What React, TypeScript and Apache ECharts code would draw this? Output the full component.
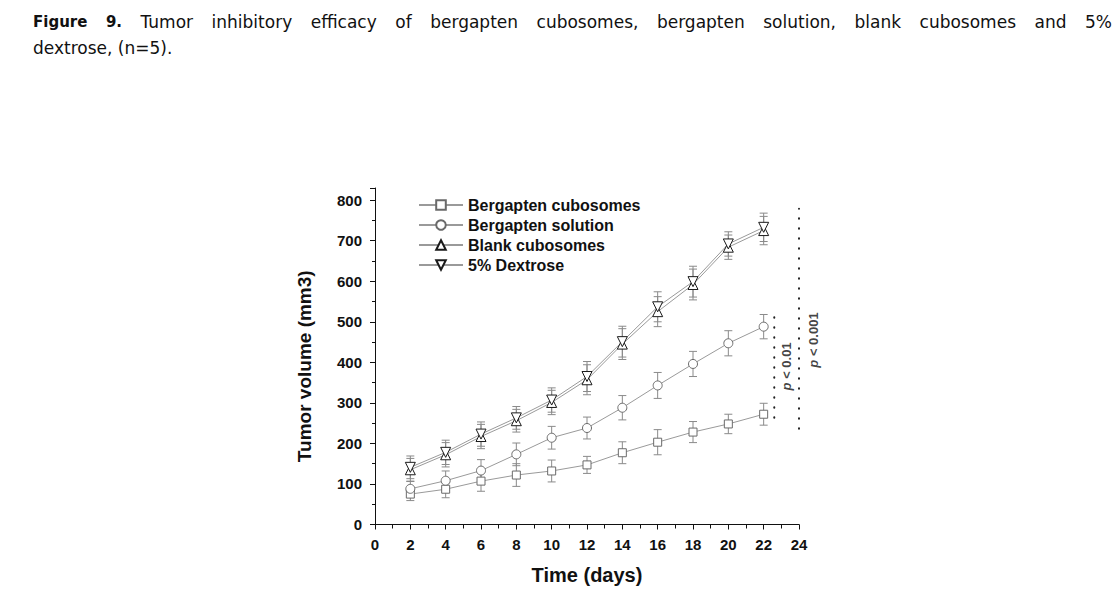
import React, { useEffect, useRef } from "react";
import * as echarts from "echarts";

const days = [2, 4, 6, 8, 10, 12, 14, 16, 18, 20, 22];
const seriesNames = ["Bergapten cubosomes", "Bergapten solution", "Blank cubosomes", "5% Dextrose"];
const cubosomes = [75, 87, 107, 122, 132, 147, 177, 203, 228, 248, 272];
const cubosomesErr = [16, 21, 25, 28, 27, 21, 27, 31, 26, 24, 27];
const solution = [88, 108, 133, 173, 214, 238, 288, 343, 396, 447, 488];
const solutionErr = [18, 24, 27, 28, 28, 27, 30, 32, 31, 31, 30];
const blank = [135, 172, 217, 256, 301, 357, 445, 525, 592, 684, 725];
const blankErr = [28, 30, 30, 28, 30, 37, 38, 37, 38, 30, 35];
const dextrose = [141, 178, 223, 263, 307, 365, 451, 537, 599, 692, 733];
const dextroseErr = [28, 30, 30, 28, 30, 37, 38, 37, 38, 30, 35];

// significance brackets: [x, yLow, yHigh]
const sigLines = [
  { x: 22.6, lo: 263, hi: 512, label: "0.01", lx: 23.32, ly: 390 },
  { x: 24, lo: 236, hi: 779, label: "0.001", lx: 24.8, ly: 455 },
];

const titleBold = ["Figure", "9."];
const titleWords = ["Tumor", "inhibitory", "efficacy", "of", "bergapten", "cubosomes,", "bergapten", "solution,", "blank", "cubosomes", "and", "5%"];
const titleLine2 = "dextrose, (n=5).";

const AXIS_FONT = "'Liberation Sans', Arial, sans-serif";
const TITLE_FONT = "'DejaVu Sans', Verdana, sans-serif";

function measure(text: string, font: string): number {
  const c = document.createElement("canvas");
  const ctx = c.getContext("2d")!;
  ctx.font = font;
  return ctx.measureText(text).width;
}

function errorRenderItem(params: any, api: any) {
  const x = api.value(0);
  const lo = api.value(1);
  const hi = api.value(2);
  const p1 = api.coord([x, hi]);
  const p2 = api.coord([x, lo]);
  const hw = 4;
  const style = { stroke: "#8a8a8a", lineWidth: 1 };
  return {
    type: "group",
    children: [
      { type: "line", shape: { x1: p1[0], y1: p1[1], x2: p2[0], y2: p2[1] }, style },
      { type: "line", shape: { x1: p1[0] - hw, y1: p1[1], x2: p1[0] + hw, y2: p1[1] }, style },
      { type: "line", shape: { x1: p2[0] - hw, y1: p2[1], x2: p2[0] + hw, y2: p2[1] }, style },
    ],
  };
}

export default function App() {
  const ref = useRef<HTMLDivElement>(null);
  useEffect(() => {
    const chart = echarts.init(ref.current!, null, { renderer: "svg" });

    const boldFont = `bold 15px ${TITLE_FONT}`;
    const normFont = `17px ${TITLE_FONT}`;
    const words = [
      ...titleBold.map((w) => ({ w, bold: true })),
      ...titleWords.map((w) => ({ w, bold: false })),
    ];
    const widths = words.map((o) => measure(o.w, o.bold ? boldFont : normFont));
    const startX = 33;
    const lastX = 1085;
    const sumW = widths.slice(0, -1).reduce((a, b) => a + b, 0);
    const gap = (lastX - startX - sumW) / (words.length - 1);
    let cx = startX;
    const titleEls: any[] = [];
    words.forEach((o, i) => {
      titleEls.push({
        type: "text",
        x: cx,
        y: 22,
        style: {
          text: o.w,
          font: o.bold ? boldFont : normFont,
          fill: "#111",
          textVerticalAlign: "middle",
          textAlign: "left",
        },
      });
      cx += widths[i] + gap;
    });
    titleEls.push({
      type: "text",
      x: startX,
      y: 48,
      style: { text: titleLine2, font: normFont, fill: "#111", textVerticalAlign: "middle", textAlign: "left" },
    });

    const mk = (vals: number[]) => days.map((d, i) => [d, vals[i]]);
    const mkErr = (vals: number[], errs: number[]) => days.map((d, i) => [d, vals[i] - errs[i], vals[i] + errs[i]]);

    const lineData = [cubosomes, solution, blank, dextrose];
    const errData = [cubosomesErr, solutionErr, blankErr, dextroseErr];
    const symbols = ["rect", "circle", "triangle", "triangle"];
    const symbolSizes = [8, 9, 10, 10];
    const rotates = [0, 0, 0, 180];
    const borders = ["#6a6a6a", "#6a6a6a", "#1a1a1a", "#1a1a1a"];

    const series: any[] = [];
    lineData.forEach((vals, i) => {
      series.push({
        type: "custom",
        name: seriesNames[i] + " err",
        renderItem: errorRenderItem,
        data: mkErr(vals, errData[i]),
        encode: { x: 0, y: [1, 2] },
        z: 1,
        silent: true,
      });
    });
    lineData.forEach((vals, i) => {
      series.push({
        type: "line",
        name: seriesNames[i],
        data: mk(vals),
        symbol: symbols[i],
        symbolSize: symbolSizes[i],
        symbolRotate: rotates[i],
        showAllSymbol: true,
        lineStyle: { color: "#9a9a9a", width: 1 },
        itemStyle: { color: "#ffffff", borderColor: borders[i], borderWidth: 1 },
        z: 3,
      });
    });
    sigLines.forEach((s) => {
      series.push({
        type: "line",
        name: "sig" + s.label,
        data: [[s.x, s.lo], [s.x, s.hi]],
        symbol: "none",
        clip: false,
        silent: true,
        lineStyle: { color: "#222", width: 2, type: [0.5, 9.5], cap: "round" },
        z: 2,
      });
      series.push({
        type: "scatter",
        name: "siglabel" + s.label,
        data: [[s.lx, s.ly]],
        symbolSize: 0,
        clip: false,
        silent: true,
        label: {
          show: true,
          position: "inside",
          rotate: 90,
          formatter: "{i|p} < " + s.label,
          fontFamily: AXIS_FONT,
          fontWeight: "bold",
          fontSize: 13,
          color: "#111",
          rich: {
            i: { fontStyle: "italic", fontWeight: "bold", fontSize: 13, fontFamily: AXIS_FONT, color: "#111" },
          },
        },
      });
    });

    chart.setOption({
      animation: false,
      backgroundColor: "#ffffff",
      grid: { left: 375, right: 314, top: 188, bottom: 79.5, containLabel: false },
      legend: {
        data: seriesNames,
        orient: "vertical",
        left: 418,
        top: 197,
        padding: 0,
        itemWidth: 44,
        itemHeight: 12,
        itemGap: 4,
        textStyle: { fontFamily: AXIS_FONT, fontWeight: "bold", fontSize: 16, color: "#111" },
        selectedMode: false,
      },
      xAxis: {
        type: "value",
        min: 0,
        max: 24,
        interval: 2,
        name: "Time (days)",
        nameLocation: "middle",
        nameGap: 40,
        nameTextStyle: { fontFamily: AXIS_FONT, fontWeight: "bold", fontSize: 20, color: "#111" },
        axisLine: { show: true, onZero: false, lineStyle: { color: "#111", width: 1 } },
        axisTick: { show: true, length: 5, lineStyle: { color: "#111" } },
        minorTick: { show: true, splitNumber: 2, length: 4, lineStyle: { color: "#111" } },
        splitLine: { show: false },
        axisLabel: { fontFamily: AXIS_FONT, fontWeight: "bold", fontSize: 15, color: "#111", margin: 12 },
      },
      yAxis: {
        type: "value",
        min: 0,
        max: 830,
        interval: 100,
        name: "Tumor volume (mm3)",
        nameLocation: "middle",
        nameRotate: 90,
        nameGap: 61,
        nameTextStyle: { fontFamily: AXIS_FONT, fontWeight: "bold", fontSize: 19, color: "#111", padding: [0, 20, 0, 0] },
        axisLine: { show: true, onZero: false, lineStyle: { color: "#111", width: 1 } },
        axisTick: { show: true, length: 5, lineStyle: { color: "#111" } },
        minorTick: { show: true, splitNumber: 2, length: 3, lineStyle: { color: "#111" } },
        splitLine: { show: false },
        axisLabel: { fontFamily: AXIS_FONT, fontWeight: "bold", fontSize: 15, color: "#111", margin: 13, showMaxLabel: false },
      },
      graphic: titleEls,
      series,
    });
    return () => chart.dispose();
  }, []);
  return <div ref={ref} style={{ position: "fixed", left: 0, top: 0, width: 1113, height: 604, background: "#fff" }} />;
}
